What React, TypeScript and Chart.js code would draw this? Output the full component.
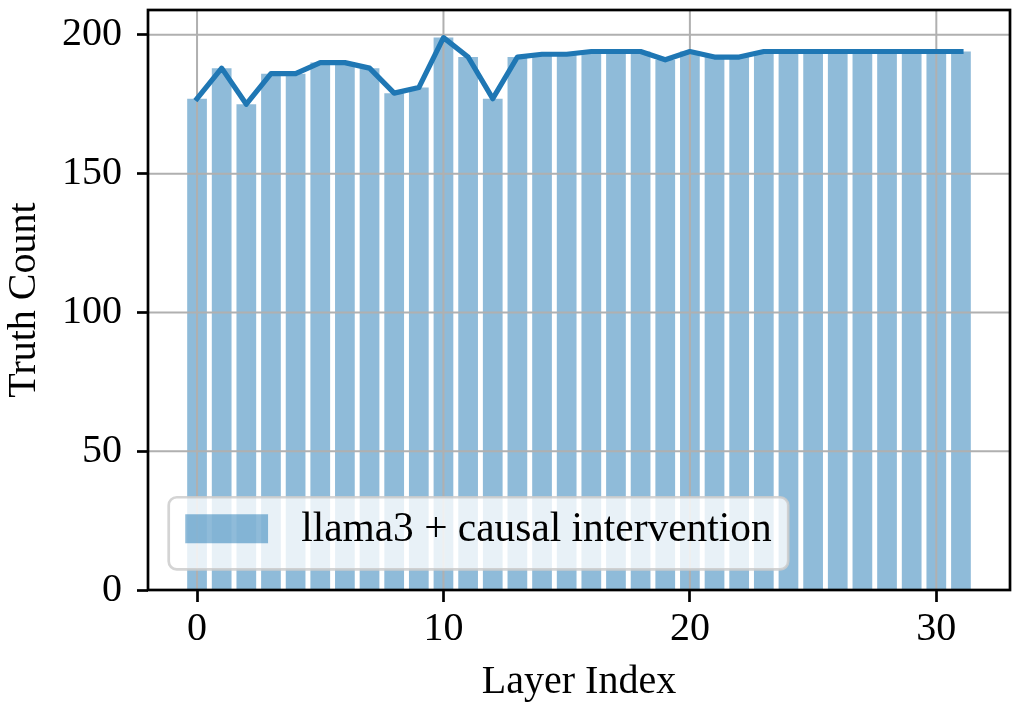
import React, { useEffect, useRef } from "react";
import { Chart, registerables } from "chart.js";

Chart.register(...registerables);

const layerIndex = [
  0, 1, 2, 3, 4, 5, 6, 7, 8, 9, 10, 11, 12, 13, 14, 15,
  16, 17, 18, 19, 20, 21, 22, 23, 24, 25, 26, 27, 28, 29, 30, 31,
];
const truthCounts = [
  177, 188, 175, 186, 186, 190, 190, 188, 179, 181, 199, 192, 177, 192, 193, 193,
  194, 194, 194, 191, 194, 192, 192, 194, 194, 194, 194, 194, 194, 194, 194, 194,
];
const xTicks = [0, 10, 20, 30];
const yTicks = [0, 50, 100, 150, 200];
const seriesLabel = "llama3 + causal intervention";
const xTitle = "Layer Index";
const yTitle = "Truth Count";

const FONT = "'Liberation Serif', 'DejaVu Serif', serif";
const BLUE = "#1f77b4";
const BAR_FILL = "rgba(31,119,180,0.5)";
const GRID = "#b0b0b0";

export default function App() {
  const ref = useRef<HTMLCanvasElement | null>(null);

  useEffect(() => {
    const canvas = ref.current;
    if (!canvas) return;

    const points = layerIndex.map((x, i) => ({ x, y: truthCounts[i] }));
    const xMin = layerIndex[0] - 0.4;
    const xMax = layerIndex[layerIndex.length - 1] + 0.4;
    const xMargin = (xMax - xMin) * 0.05;
    const yMax = Math.max(...truthCounts) * 1.05;

    const framePlugin = {
      id: "frameAndLegend",
      beforeDatasetDraw(chart: any, args: any) {
        if (args.meta.type !== "line") return;
        const { ctx, chartArea: a } = chart;
        const xs = chart.scales.x;
        const ys = chart.scales.y;
        ctx.save();
        ctx.beginPath();
        ctx.rect(a.left, a.top, a.right - a.left, a.bottom - a.top);
        ctx.clip();
        ctx.strokeStyle = GRID;
        ctx.lineWidth = 2;
        ctx.beginPath();
        xTicks.forEach((v) => {
          const px = xs.getPixelForValue(v);
          ctx.moveTo(px, a.top);
          ctx.lineTo(px, a.bottom);
        });
        yTicks.forEach((v) => {
          const py = ys.getPixelForValue(v);
          ctx.moveTo(a.left, py);
          ctx.lineTo(a.right, py);
        });
        ctx.stroke();
        ctx.restore();
      },
      afterDatasetsDraw(chart: any) {
        const { ctx, chartArea: a } = chart;
        ctx.save();
        ctx.strokeStyle = "#000";
        ctx.lineWidth = 2.7;
        ctx.strokeRect(a.left, a.top, a.right - a.left, a.bottom - a.top);
        ctx.restore();
      },
      afterDraw(chart: any) {
        const { ctx, chartArea: a } = chart;
        const F = 41.4;
        ctx.save();
        ctx.font = `${F}px ${FONT}`;
        const textW = ctx.measureText(seriesLabel).width;
        const pad = 0.4 * F;
        const handleL = 2 * F;
        const handleGap = 0.8 * F;
        const w = pad + handleL + handleGap + textW + pad;
        const h = 1.74 * F;
        const x0 = a.left + 0.5 * F;
        const y1 = a.bottom - 0.5 * F;
        const y0 = y1 - h;
        const r = 8;
        ctx.beginPath();
        ctx.moveTo(x0 + r, y0);
        ctx.lineTo(x0 + w - r, y0);
        ctx.arcTo(x0 + w, y0, x0 + w, y0 + r, r);
        ctx.lineTo(x0 + w, y1 - r);
        ctx.arcTo(x0 + w, y1, x0 + w - r, y1, r);
        ctx.lineTo(x0 + r, y1);
        ctx.arcTo(x0, y1, x0, y1 - r, r);
        ctx.lineTo(x0, y0 + r);
        ctx.arcTo(x0, y0, x0 + r, y0, r);
        ctx.closePath();
        ctx.fillStyle = "rgba(255,255,255,0.8)";
        ctx.fill();
        ctx.strokeStyle = "rgba(204,204,204,0.85)";
        ctx.lineWidth = 2.7;
        ctx.stroke();
        const ph = 0.7 * F;
        const py = y0 + 17;
        ctx.fillStyle = BAR_FILL;
        ctx.fillRect(x0 + pad, py, handleL, ph);
        ctx.fillStyle = "#000";
        ctx.textBaseline = "middle";
        ctx.textAlign = "left";
        ctx.fillText(seriesLabel, x0 + pad + handleL + handleGap, py + ph / 2 + 1);
        ctx.restore();
      },
    };

    const chart = new Chart(canvas, {
      type: "bar",
      data: {
        datasets: [
          {
            type: "line",
            label: seriesLabel + " (line)",
            data: points,
            borderColor: BLUE,
            borderWidth: 5.2,
            pointRadius: 0,
            tension: 0,
            borderJoinStyle: "round",
            borderCapStyle: "square",
            fill: false,
            order: 0,
          } as any,
          {
            type: "bar",
            label: seriesLabel,
            data: points,
            backgroundColor: BAR_FILL,
            borderWidth: 0,
            categoryPercentage: 1,
            barPercentage: 0.8,
            order: 1,
          } as any,
        ],
      },
      options: {
        responsive: false,
        animation: false,
        layout: { padding: { top: 10, right: 7, left: 0, bottom: 0 } },
        plugins: {
          legend: { display: false },
          tooltip: { enabled: false },
        },
        scales: {
          x: {
            type: "linear",
            min: xMin - xMargin,
            max: xMax + xMargin,
            offset: false,
            afterBuildTicks: (s: any) => {
              s.ticks = xTicks.map((v) => ({ value: v }));
            },
            afterFit: (s: any) => {
              s.height = 118;
              s.paddingLeft = 0;
              s.paddingRight = 0;
            },
            grid: {
              offset: false,
              drawOnChartArea: false,
              drawTicks: true,
              tickLength: 12,
              tickColor: "#000",
              tickWidth: 2.7,
            },
            border: { display: false },
            ticks: {
              color: "#000",
              padding: 3,
              maxRotation: 0,
              autoSkip: false,
              font: { family: FONT, size: 40 },
            },
            title: {
              display: true,
              text: xTitle,
              color: "#000",
              padding: { top: 0, bottom: 2 },
              font: { family: FONT, size: 40 },
            },
          },
          y: {
            type: "linear",
            min: 0,
            max: yMax,
            afterBuildTicks: (s: any) => {
              s.ticks = yTicks.map((v) => ({ value: v }));
            },
            afterFit: (s: any) => {
              s.width = 148;
              s.paddingTop = 0;
              s.paddingBottom = 0;
            },
            grid: {
              drawOnChartArea: false,
              drawTicks: true,
              tickLength: 11,
              tickColor: "#000",
              tickWidth: 2.7,
            },
            border: { display: false },
            ticks: {
              color: "#000",
              padding: 15,
              autoSkip: false,
              font: { family: FONT, size: 40 },
            },
            title: {
              display: true,
              text: yTitle,
              color: "#000",
              padding: { top: 0, bottom: 0 },
              font: { family: FONT, size: 40 },
            },
          },
        },
      } as any,
      plugins: [framePlugin],
    });

    return () => {
      chart.destroy();
    };
  }, []);

  return (
    <div
      style={{
        position: "fixed",
        left: 0,
        top: 0,
        width: 1017,
        height: 708,
        background: "#fff",
      }}
    >
      <canvas ref={ref} width={1017} height={708} style={{ width: 1017, height: 708 }} />
    </div>
  );
}
